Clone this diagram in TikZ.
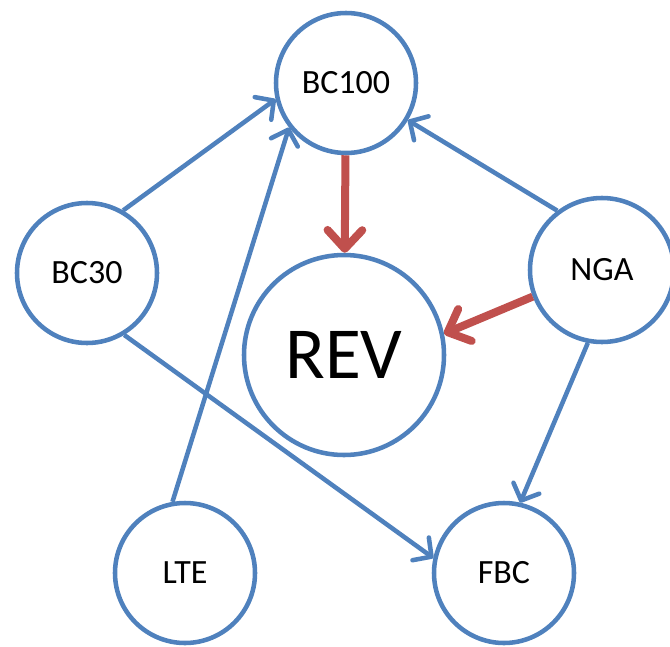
\documentclass[tikz,border=0pt]{standalone}
\usepackage{fontspec}
\setmainfont{Carlito}
\usetikzlibrary{arrows.meta}
\definecolor{officeblue}{RGB}{79,129,189}
\definecolor{officered}{RGB}{192,80,77}

\begin{document}
\begin{tikzpicture}[x=0.75pt,y=-0.75pt,
  ball/.style={circle,draw=officeblue,line width=3.4pt,inner sep=0pt,minimum size=105pt,font=\fontsize{25.5}{30}\selectfont},
  ar/.style={-{Straight Barb[length=10pt,width=21pt,round]},officeblue,line width=3.4pt},
  rar/.style={-{Straight Barb[length=14pt,width=26pt,round]},officered,line width=6pt}]
  \useasboundingbox (0,0) rectangle (670,646);
  \clip (0,0) rectangle (670,646);
  \node[ball](bc100) at (346,83){BC100};
  \node[ball](bc30) at (87,273){BC30};
  \node[ball,minimum size=108pt](nga) at (602,270){NGA};
  \node[ball](lte) at (185,573){LTE};
  \node[ball](fbc) at (504,573){FBC};
  \node[ball,minimum size=150pt,font=\fontsize{55}{66}\selectfont](rev) at (344,355){REV};
  % blue links
  \draw[ar](bc30.60)--(bc100.193);
  \draw[ar](lte.100)--(bc100.218);
  \draw[ar](nga.127)--(bc100.329);
  \draw[ar](bc30.301)--(fbc.168);
  \draw[ar](nga.259)--(fbc.77);
  % red links into REV
  \draw[rar](bc100)--(rev);
  \draw[rar](nga.201)--(rev.12);
\end{tikzpicture}
\end{document}
